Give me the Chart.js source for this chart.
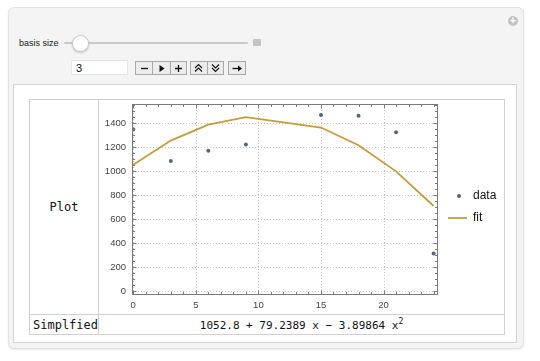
<!DOCTYPE html>
<html>
<head>
<meta charset="utf-8">
<script src="https://cdn.jsdelivr.net/npm/chart.js@4"></script>
<style>
  html, body { margin: 0; padding: 0; background: #fff; }
  body { width: 540px; height: 361px; position: relative; overflow: hidden; font-family: "Liberation Sans", Arial, sans-serif; }
  .abs { position: absolute; }
  #panel { left: 8px; top: 7px; width: 514px; height: 340px; background: #f4f4f4; border: 1px solid #e2e2e2; border-radius: 6px; box-shadow: 0 1px 2px rgba(0,0,0,0.08); }
  #plus { left: 508px; top: 16px; width: 10px; height: 10px; border-radius: 50%; background: #c4c4c4; color: #fff; font-size: 10px; line-height: 10px; text-align: center; font-weight: bold; }
  #lbl { left: 19px; top: 38px; font-size: 9px; color: #222; }
  #track { left: 64px; top: 42px; width: 184px; height: 2px; background: #c9c9c9; border-radius: 1px; }
  #knob { left: 72px; top: 35px; width: 15px; height: 15px; border-radius: 50%; background: #fff; border: 1px solid #c8c8c8; box-shadow: 0 1px 2px rgba(0,0,0,0.2); }
  #sq { left: 253px; top: 39px; width: 8px; height: 7px; background: #c4c4c4; border-radius: 1px; }
  #inp { left: 71px; top: 60px; width: 57px; height: 15px; background: #fff; border: 1px solid #e6e6e6; font-size: 11px; line-height: 15px; box-sizing: border-box; padding-left: 4px; color: #111; }
  .grp { top: 61px; height: 14px; display: flex; border: 1px solid #a9a9a9; background: #ececec; box-sizing: border-box; }
  .grp span { display: flex; align-items: center; justify-content: center; height: 12px; border-right: 1px solid #a9a9a9; }
  .grp span:last-child { border-right: none; }
  .grp svg { display: block; }
  #inner { left: 13px; top: 84px; width: 504px; height: 259px; background: #fff; border: 1px solid #d4d4d4; box-sizing: border-box; }
  table { position: absolute; left: 29px; top: 99px; border-collapse: collapse; }
  td { border: 1px solid #d0d0d0; padding: 0; }
  .mono { font-family: "DejaVu Sans Mono", monospace; color: #111; }
  #cv { display: block; }
</style>
</head>
<body>
<div id="panel" class="abs"></div>
<div id="plus" class="abs">+</div>
<div id="lbl" class="abs">basis size</div>
<div id="track" class="abs"></div>
<div id="knob" class="abs"></div>
<div id="sq" class="abs"></div>
<div id="inp" class="abs">3</div>
<div class="grp abs" style="left:135px;width:52px">
  <span style="width:17px"><svg width="9" height="9"><path d="M1 4.5H8" stroke="#111" stroke-width="1.3"/></svg></span>
  <span style="width:17px"><svg width="9" height="9"><path d="M2.5 1L7.5 4.5L2.5 8Z" fill="#111"/></svg></span>
  <span style="width:16px"><svg width="9" height="9"><path d="M1 4.5H8M4.5 1V8" stroke="#111" stroke-width="1.3"/></svg></span>
</div>
<div class="grp abs" style="left:190px;width:34px">
  <span style="width:16px"><svg width="9" height="10"><path d="M1 5L4.5 1.5L8 5M1 8.5L4.5 5L8 8.5" stroke="#111" stroke-width="1.1" fill="none"/></svg></span>
  <span style="width:16px"><svg width="9" height="10"><path d="M1 1.5L4.5 5L8 1.5M1 5L4.5 8.5L8 5" stroke="#111" stroke-width="1.1" fill="none"/></svg></span>
</div>
<div class="grp abs" style="left:228px;width:18px">
  <span style="width:16px"><svg width="11" height="9"><path d="M0.5 4.5H7" stroke="#111" stroke-width="1.3"/><path d="M6 1.5L10 4.5L6 7.5Z" fill="#111"/></svg></span>
</div>
<div id="inner" class="abs"></div>
<table>
  <tr style="height:215px">
    <td class="mono" style="width:67px;text-align:center;font-size:12px">Plot</td>
    <td style="width:405px"><div style="position:relative;width:405px;height:214px"><canvas id="cv"></canvas></div></td>
  </tr>
  <tr style="height:20px">
    <td class="mono" style="font-size:12px;padding-left:3px">Simplfied</td>
    <td class="mono" style="text-align:center;font-size:11px">1052.8 + 79.2389 x &#8722; 3.89864 x<sup style="font-size:8px">2</sup></td>
  </tr>
</table>
<script>
// data
const xValues = [0, 3, 6, 9, 15, 18, 21, 24];
const dataValues = [1350, 1085, 1170, 1222, 1469, 1461, 1325, 313];
const fitValues = [1053, 1255, 1388, 1450, 1364, 1216, 998, 709];
const xTicks = [0, 5, 10, 15, 20];
const yTicks = [0, 200, 400, 600, 800, 1000, 1200, 1400];

const pointColor = '#56667a';
const fitColor = '#c49b3f';

const framePlugin = {
  id: 'mmaFrame',
  beforeDatasetsDraw(chart) {
    const { ctx, chartArea: a, scales: { x, y } } = chart;
    ctx.save();
    ctx.strokeStyle = '#c4c4c4';
    ctx.lineWidth = 1;
    ctx.setLineDash([1, 2]);
    ctx.beginPath();
    xTicks.forEach(function (v) {
      const px = Math.round(x.getPixelForValue(v)) + 0.5;
      ctx.moveTo(px, a.top); ctx.lineTo(px, a.bottom);
    });
    yTicks.forEach(function (v) {
      const py = Math.round(y.getPixelForValue(v)) + 0.5;
      ctx.moveTo(a.left, py); ctx.lineTo(a.right, py);
    });
    ctx.stroke();
    ctx.restore();
  },
  afterDatasetsDraw(chart) {
    const { ctx, chartArea: a, scales: { x, y } } = chart;
    const L = Math.round(a.left) + 0.5, R = Math.round(a.right) - 0.5;
    const T = Math.round(a.top) + 0.5, B = Math.round(a.bottom) - 0.5;
    ctx.save();
    ctx.strokeStyle = '#7a7a7a';
    ctx.lineWidth = 1;
    ctx.strokeRect(L, T, R - L, B - T);
    ctx.beginPath();
    // x ticks, every 1 unit, major every 5
    for (let v = 0; v <= 24; v++) {
      const len = v % 5 === 0 ? 4 : 2.5;
      const px = Math.round(x.getPixelForValue(v)) + 0.5;
      ctx.moveTo(px, B); ctx.lineTo(px, B - len);
      ctx.moveTo(px, T); ctx.lineTo(px, T + len);
    }
    // y ticks, every 50, major every 200
    for (let v = 0; v <= 1550; v += 50) {
      const len = v % 200 === 0 ? 4 : 2.5;
      const py = Math.round(y.getPixelForValue(v)) + 0.5;
      ctx.moveTo(L, py); ctx.lineTo(L + len, py);
      ctx.moveTo(R, py); ctx.lineTo(R - len, py);
    }
    ctx.stroke();
    ctx.restore();
  },
  afterDraw(chart) {
    // legend, Mathematica style, to the right of the frame
    const ctx = chart.ctx;
    const sets = chart.data.datasets;
    const lx = chart.chartArea.right + 18;
    ctx.save();
    ctx.font = '12px "Liberation Sans", Arial, sans-serif';
    ctx.textBaseline = 'middle';
    ctx.fillStyle = sets[0].backgroundColor;
    ctx.beginPath(); ctx.arc(lx + 3, 96, 2, 0, Math.PI * 2); ctx.fill();
    ctx.fillStyle = '#111';
    ctx.fillText(sets[0].label, lx + 17, 96);
    ctx.strokeStyle = sets[1].borderColor;
    ctx.lineWidth = 1.8;
    ctx.beginPath(); ctx.moveTo(lx - 8, 118); ctx.lineTo(lx + 11, 118); ctx.stroke();
    ctx.fillText(sets[1].label, lx + 17, 118);
    ctx.restore();
  }
};

new Chart(document.getElementById('cv'), {
  type: 'scatter',
  data: {
    datasets: [{
      label: 'data',
      data: xValues.map(function (v, i) { return { x: v, y: dataValues[i] }; }),
      backgroundColor: pointColor,
      borderColor: pointColor,
      pointRadius: 2,
      borderWidth: 0,
      order: 0,
    }, {
      label: 'fit',
      data: xValues.map(function (v, i) { return { x: v, y: fitValues[i] }; }),
      showLine: true,
      borderColor: fitColor,
      borderWidth: 1.8,
      pointRadius: 0,
      order: 1,
    }],
  },
  options: {
    responsive: true,
    maintainAspectRatio: false,
    animation: false,
    layout: { padding: { top: 3, right: 66, left: 0, bottom: 0 } },
    plugins: {
      legend: { display: false },
      tooltip: { enabled: false },
    },
    scales: {
      x: {
        type: 'linear',
        min: -0.1,
        max: 24.35,
        afterBuildTicks: function (s) { s.ticks = xTicks.map(function (v) { return { value: v }; }); },
        afterFit: function (s) { s.height = 19; s.paddingLeft = 0; s.paddingRight = 0; },
        grid: { display: false, drawTicks: false, tickLength: 0 },
        border: { display: false },
        ticks: { padding: 5, maxRotation: 0, color: '#444', font: { family: 'Liberation Sans', size: 9.5 },
          callback: function (v) { return String(v); } },
      },
      y: {
        type: 'linear',
        min: -33,
        max: 1560,
        afterBuildTicks: function (s) { s.ticks = yTicks.map(function (v) { return { value: v }; }); },
        afterFit: function (s) { s.width = 33; s.paddingTop = 0; s.paddingBottom = 0; },
        grid: { display: false, drawTicks: false, tickLength: 0 },
        border: { display: false },
        ticks: { padding: 6, color: '#444', font: { family: 'Liberation Sans', size: 9.5 },
          callback: function (v) { return String(v); } },
      },
    },
  },
  plugins: [framePlugin],
});
</script>
</body>
</html>
